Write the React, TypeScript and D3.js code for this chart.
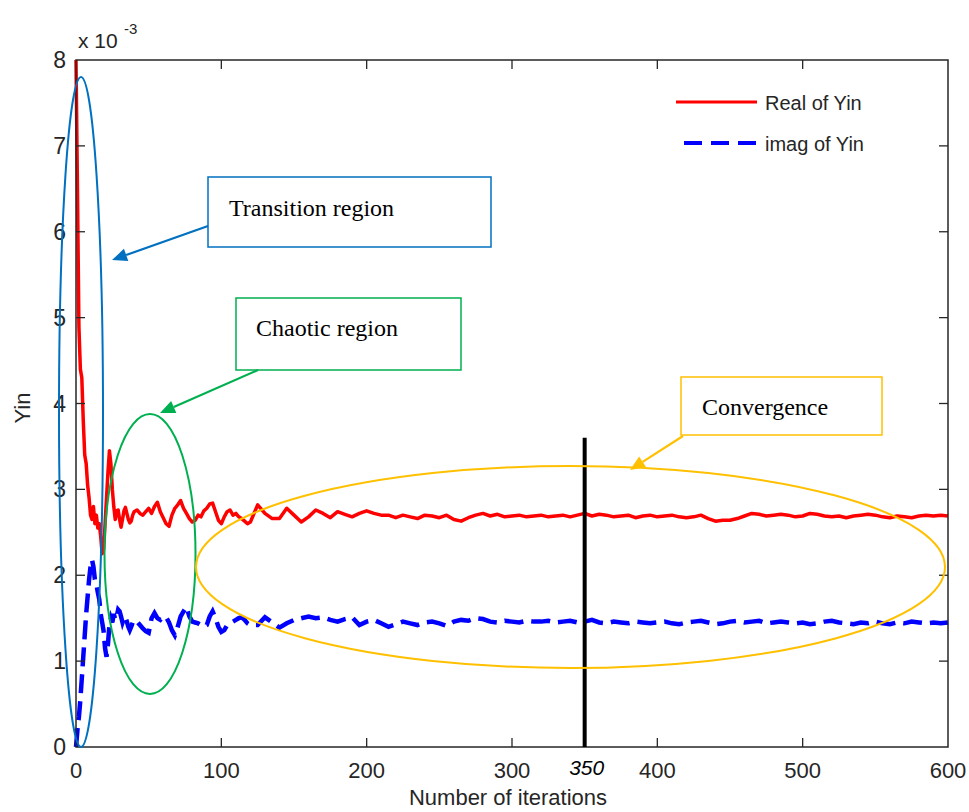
import React from "react";
import * as d3 from "d3";

// ---- data (values in units of 1e-3) ----
const itersEarly = d3.range(0, 41);
const itersMid = d3.range(42, 121, 2);
const itersLate = d3.range(125, 601, 5);

const realEarly = [8.0, 6.5, 4.9, 4.4, 4.3, 3.8, 3.4, 3.3, 3.05, 2.9,
  2.7, 2.65, 2.8, 2.6, 2.7, 2.55, 2.6, 2.45, 2.25, 2.3,
  2.6, 2.9, 3.2, 3.45, 3.3, 3.0, 2.8, 2.65, 2.75, 2.76,
  2.65, 2.56, 2.65, 2.75, 2.79, 2.72, 2.65, 2.61, 2.63, 2.7, 2.74];
const realMid = [2.76, 2.72, 2.7, 2.74, 2.78, 2.72, 2.8, 2.85, 2.74, 2.67,
  2.6, 2.57, 2.7, 2.78, 2.82, 2.87, 2.78, 2.72, 2.66, 2.62,
  2.64, 2.7, 2.68, 2.75, 2.78, 2.83, 2.84, 2.74, 2.64, 2.6,
  2.68, 2.74, 2.76, 2.7, 2.72, 2.68, 2.66, 2.63, 2.6, 2.62];
const realLate = [2.82, 2.72, 2.66, 2.66, 2.78, 2.7, 2.62, 2.68, 2.76, 2.72,
  2.67, 2.74, 2.71, 2.68, 2.72, 2.75, 2.72, 2.7, 2.7, 2.67,
  2.7, 2.68, 2.66, 2.7, 2.69, 2.67, 2.7, 2.65, 2.63, 2.67,
  2.7, 2.72, 2.69, 2.71, 2.68, 2.69, 2.7, 2.68, 2.69, 2.7,
  2.68, 2.69, 2.7, 2.68, 2.7, 2.72, 2.69, 2.71, 2.7, 2.68,
  2.69, 2.7, 2.67, 2.69, 2.7, 2.68, 2.69, 2.7, 2.68, 2.67,
  2.68, 2.7, 2.66, 2.63, 2.64, 2.64, 2.66, 2.69, 2.72, 2.71,
  2.69, 2.7, 2.71, 2.7, 2.68, 2.69, 2.72, 2.71, 2.69, 2.68,
  2.69, 2.67, 2.69, 2.7, 2.71, 2.7, 2.68, 2.67, 2.69, 2.68,
  2.67, 2.69, 2.7, 2.69, 2.7, 2.69];

const imagEarly = [0.0, 0.2, 0.35, 0.55, 0.8, 1.05, 1.3, 1.55, 1.75, 1.95,
  2.1, 2.18, 2.1, 1.95, 1.9, 1.8, 1.72, 1.55, 1.45, 1.35,
  1.15, 1.05, 1.2, 1.42, 1.5, 1.45, 1.55, 1.48, 1.52, 1.6,
  1.58, 1.52, 1.45, 1.5, 1.51, 1.46, 1.4, 1.36, 1.4, 1.45, 1.48];
const imagMid = [1.46, 1.42, 1.38, 1.35, 1.33, 1.5, 1.56, 1.5, 1.48, 1.52,
  1.51, 1.45, 1.36, 1.3, 1.4, 1.52, 1.58, 1.63, 1.52, 1.46,
  1.45, 1.44, 1.42, 1.4, 1.42, 1.52, 1.58, 1.5, 1.4, 1.34,
  1.36, 1.42, 1.44, 1.46, 1.48, 1.5, 1.51, 1.48, 1.44, 1.42];
const imagLate = [1.42, 1.51, 1.45, 1.39, 1.44, 1.48, 1.5, 1.52, 1.5, 1.51,
  1.48, 1.46, 1.49, 1.51, 1.42, 1.46, 1.48, 1.44, 1.4, 1.43,
  1.46, 1.44, 1.42, 1.45, 1.46, 1.44, 1.41, 1.46, 1.48, 1.47,
  1.5, 1.49, 1.46, 1.45, 1.47, 1.46, 1.45, 1.47, 1.46, 1.46,
  1.47, 1.45, 1.46, 1.47, 1.45, 1.46, 1.48, 1.45, 1.44, 1.46,
  1.45, 1.44, 1.46, 1.45, 1.44, 1.45, 1.46, 1.44, 1.43, 1.45,
  1.46, 1.47, 1.45, 1.43, 1.44, 1.46, 1.47, 1.45, 1.46, 1.47,
  1.44, 1.45, 1.46, 1.45, 1.44, 1.45, 1.43, 1.44, 1.46, 1.47,
  1.45, 1.44, 1.43, 1.45, 1.44, 1.46, 1.44, 1.43, 1.45, 1.44,
  1.46, 1.45, 1.44, 1.45, 1.44, 1.45];

const xTicks = [0, 100, 200, 300, 400, 500, 600];
const yTicks = [0, 1, 2, 3, 4, 5, 6, 7, 8];
const markerIter = 350;
const markerTop = 3.6;
const seriesNames = ["Real of Yin", "imag of Yin"];

const W = 969, H = 812;
const x = d3.scaleLinear().domain([0, 600]).range([76, 948]);
const y = d3.scaleLinear().domain([0, 8]).range([747, 60]);

const iters = [...itersEarly, ...itersMid, ...itersLate];
const real = [...realEarly, ...realMid, ...realLate];
const imag = [...imagEarly, ...imagMid, ...imagLate];

const line = d3.line<number>().x((_, i) => x(iters[i])).y((d) => y(d));

const AX = "#262626";
const SANS = "'Liberation Sans', Arial, Helvetica, sans-serif";
const SERIF = "'Liberation Serif', 'Times New Roman', serif";

function Arrow({ x1, y1, x2, y2, color }: { x1: number; y1: number; x2: number; y2: number; color: string }) {
  const ang = Math.atan2(y2 - y1, x2 - x1);
  const L = 15, Wd = 6.5;
  const bx = x2 - L * Math.cos(ang), by = y2 - L * Math.sin(ang);
  const px = -Math.sin(ang) * Wd, py = Math.cos(ang) * Wd;
  return (
    <g>
      <line x1={x1} y1={y1} x2={bx} y2={by} stroke={color} strokeWidth={2.2} />
      <path d={`M${x2},${y2}L${bx + px},${by + py}L${bx - px},${by - py}Z`} fill={color} />
    </g>
  );
}

export default function App() {
  const [x0, x1] = x.range();
  const [yb, yt] = y.range();
  return (
    <svg width={W} height={H} style={{ position: "absolute", left: 0, top: 0, background: "#fff" }}>
      <rect width={W} height={H} fill="#fff" />
      {/* data */}
      <path d={line(real) || ""} fill="none" stroke="#ff0000" strokeWidth={3.5} strokeLinejoin="round" />
      <path d={line(imag) || ""} fill="none" stroke="#0000ff" strokeWidth={4.5} strokeDasharray="19,8" />

      {/* axes frame */}
      <rect x={x0} y={yt} width={x1 - x0} height={yb - yt} fill="none" stroke={AX} strokeWidth={1.5} />
      {xTicks.map((t) => (
        <g key={"xt" + t}>
          {t > 0 && t < 600 && (
            <>
              <line x1={x(t)} x2={x(t)} y1={yb} y2={yb - 9} stroke={AX} strokeWidth={1.3} />
              <line x1={x(t)} x2={x(t)} y1={yt} y2={yt + 9} stroke={AX} strokeWidth={1.3} />
            </>
          )}
          <text x={x(t)} y={778} textAnchor="middle" fontFamily={SANS} fontSize={22} fill={AX}>{t}</text>
        </g>
      ))}
      {yTicks.map((t) => (
        <g key={"yt" + t}>
          {t > 0 && t < 8 && (
            <>
              <line x1={x0} x2={x0 + 9} y1={y(t)} y2={y(t)} stroke={AX} strokeWidth={1.3} />
              <line x1={x1} x2={x1 - 9} y1={y(t)} y2={y(t)} stroke={AX} strokeWidth={1.3} />
            </>
          )}
          <text x={66} y={y(t) + 8} textAnchor="end" fontFamily={SANS} fontSize={23} fill={AX}>{t}</text>
        </g>
      ))}
      <text x={78} y={48} fontFamily={SANS} fontSize={21} fill={AX}>x 10</text>
      <text x={124} y={34} fontFamily={SANS} fontSize={15} fill={AX}>-3</text>
      <text x={508} y={805} textAnchor="middle" fontFamily={SANS} fontSize={22} fill={AX}>Number of iterations</text>
      <text transform="translate(30,408) rotate(-90)" textAnchor="middle" fontFamily={SANS} fontSize={22} fill={AX}>Yin</text>

      {/* marker at 350 */}
      <line x1={x(markerIter)} x2={x(markerIter)} y1={y(markerTop)} y2={yb} stroke="#000" strokeWidth={4} />
      <text x={x(markerIter) + 2} y={775} textAnchor="middle" fontFamily={SANS} fontStyle="italic" fontSize={21} fill="#000">{markerIter}</text>

      {/* legend */}
      <line x1={676} x2={757} y1={102} y2={102} stroke="#ff0000" strokeWidth={3} />
      <text x={765} y={110} fontFamily={SANS} fontSize={20} fill={AX}>{seriesNames[0]}</text>
      <line x1={684} x2={757} y1={143} y2={143} stroke="#0000ff" strokeWidth={4} strokeDasharray="18,9" />
      <text x={765} y={151} fontFamily={SANS} fontSize={20} fill={AX}>{seriesNames[1]}</text>

      {/* annotations */}
      <ellipse cx={81} cy={412} rx={22} ry={335} fill="none" stroke="#0070C0" strokeWidth={2} />
      <ellipse cx={150} cy={554} rx={45.5} ry={140} fill="none" stroke="#00B050" strokeWidth={2} />
      <ellipse cx={570.5} cy={567} rx={374.5} ry={101} fill="none" stroke="#FFC000" strokeWidth={2} />

      <rect x={208} y={177} width={283} height={70} fill="#fff" stroke="#0070C0" strokeWidth={1.5} />
      <text x={229} y={216} fontFamily={SERIF} fontSize={24} fill="#000">Transition region</text>
      <Arrow x1={208} y1={226} x2={112} y2={260} color="#0070C0" />

      <rect x={236} y={298} width={225} height={72} fill="#fff" stroke="#00B050" strokeWidth={1.5} />
      <text x={256} y={336} fontFamily={SERIF} fontSize={24} fill="#000">Chaotic region</text>
      <Arrow x1={258} y1={370} x2={160} y2={413} color="#00B050" />

      <rect x={681} y={377} width={201} height={58} fill="#fff" stroke="#FFC000" strokeWidth={1.5} />
      <text x={702} y={415} fontFamily={SERIF} fontSize={24} fill="#000">Convergence</text>
      <Arrow x1={683} y1={436} x2={630} y2={470} color="#FFC000" />
    </svg>
  );
}
